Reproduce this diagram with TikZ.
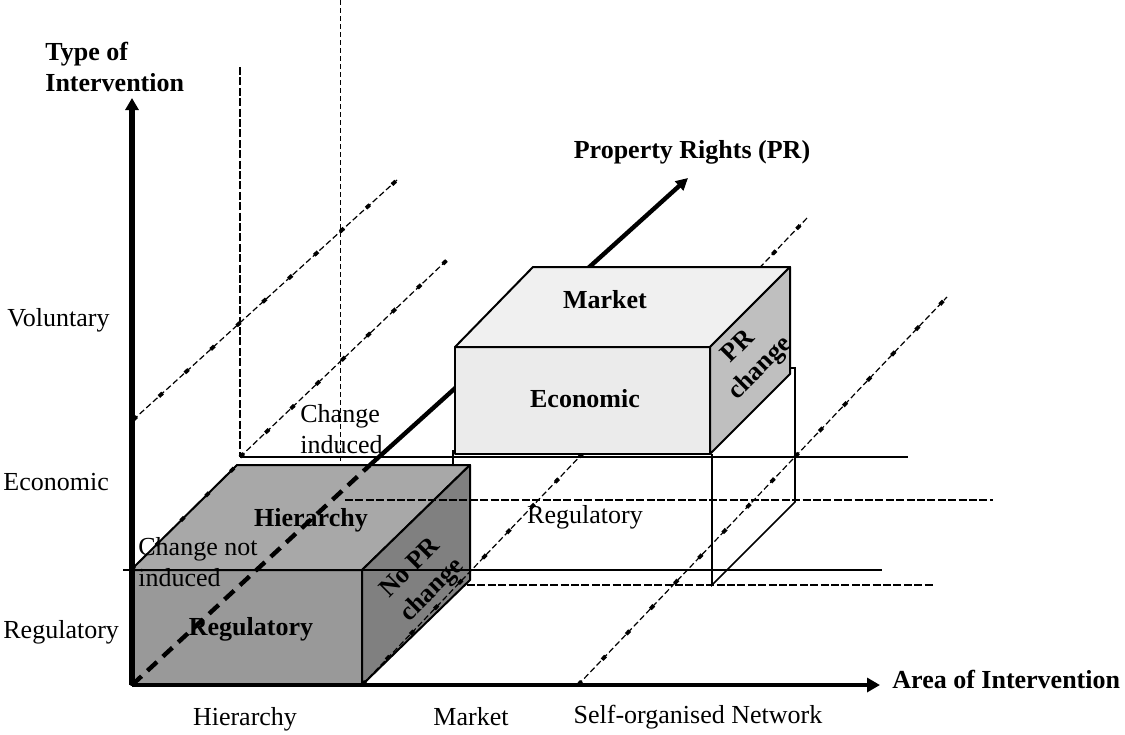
\documentclass[tikz,border=0pt]{standalone}
\usepackage{fontspec}
\setmainfont{Liberation Serif}
\usetikzlibrary{arrows.meta,positioning}
\definecolor{hiertop}{gray}{0.66}
\definecolor{hierfront}{gray}{0.6}
\definecolor{hierside}{gray}{0.5}
\definecolor{econtop}{gray}{0.94}
\definecolor{econfront}{gray}{0.92}
\definecolor{econside}{gray}{0.75}

\begin{document}
\begin{tikzpicture}[x=0.5pt,y=-0.5pt,
    lbl/.style={font=\fontsize{13}{15.5}\selectfont,inner sep=0pt},
    blbl/.style={font=\fontsize{13}{15.5}\selectfont\bfseries,inner sep=0pt},
    face/.style={draw,line width=1pt,line join=round},
    gridline/.style={line width=0.6pt,dash pattern=on 3pt off 1.5pt,
      postaction={draw,line width=1.9pt,dash pattern=on 2.5pt off 15pt}},
    thickdash/.style={line width=1.4pt,dash pattern=on 4pt off 1.2pt},
    thinline/.style={line width=0.8pt}]
  \useasboundingbox (0,0) rectangle (1125,734);
  % corners
  \coordinate (o) at (132,685);
  \coordinate (ytip) at (132,98);
  \coordinate (xtip) at (880,685);
  \coordinate (prmid) at (370,465);
  \coordinate (prtip) at (688,178);
  % PR grid lines
  \draw[gridline] (133,420) coordinate (g1a) -- (397,180) coordinate (g1b);
  \draw[gridline] (240,457) coordinate (g2a) -- (447,260) coordinate (g2b);
  \draw[gridline] (578,685) coordinate (g4a) -- (947,297) coordinate (g4b);
  \draw[line width=0.5pt,dash pattern=on 2.5pt off 1.5pt] (340,0) -- (340,465);
  \draw[thickdash] (240,67) -- (240,457);
  \draw[thinline] (240,457) -- (908,457);
  % wire box under the economic block
  \draw[thinline] (712,454) -- (712,585) -- (795,502) -- (795,368) -- (790,368);
  \draw[thinline] (453,450) -- (453,465);
  \draw[line width=2.2pt,-{Triangle[length=6pt,width=6pt]}] (prmid) -- (prtip);
  % hierarchy block
  \draw[face,fill=hierfront] (131,570) rectangle (362,685);
  \draw[face,fill=hiertop] (131,570) -- (237,465) -- (470,465) -- (362,570) -- cycle;
  \draw[face,fill=hierside] (362,570) -- (470,465) -- (470,580) -- (362,685) -- cycle;
  \draw[gridline] (131,570) -- (237,465);
  \draw[gridline] (362,685) coordinate (g3a) -- (808,217) coordinate (g3b);
  % economic block
  \draw[face,fill=econfront] (455,347) rectangle (710,454);
  \draw[face,fill=econtop] (455,347) -- (533,267) -- (790,267) -- (710,347) -- cycle;
  \draw[face,fill=econside] (710,347) -- (790,267) -- (790,374) -- (710,454) -- cycle;
  % levels
  \draw[thinline] (123,570) -- (882,570);
  \draw[thickdash] (345,500) -- (993,500);
  \draw[thickdash] (467,585) -- (933,585);
  \draw[line width=2.2pt,dash pattern=on 6.5pt off 4pt] (o) -- (prmid);
  % axes
  \draw[line width=3pt,-{Triangle[length=6pt,width=6.5pt]}] (o) -- (ytip);
  \draw[line width=1.8pt,-{Triangle[length=6.5pt,width=7pt]}] (o) -- (xtip);
  % labels
  \node[blbl,anchor=west,align=left] (t_type) at (45,67) {Type of\\Intervention};
  \node[blbl] (t_pr) at (692,152) {Property Rights (PR)};
  \node[blbl,anchor=west] (t_area) at (892,679) {Area of Intervention};
  \node[lbl,anchor=west] (y_vol) at (7,320) {Voluntary};
  \node[lbl,anchor=west] (y_eco) at (3,482) {Economic};
  \node[lbl,anchor=west] (y_reg) at (3,632) {Regulatory};
  \node[lbl] (x_hier) at (245,719) {Hierarchy};
  \node[lbl] (x_mkt) at (471,717) {Market};
  \node[lbl] (x_net) at (698,717) {Self-organised Network};
  \node[lbl,anchor=west,align=left] (c_ind) at (300,429) {Change\\induced};
  \node[lbl,anchor=west,align=left] (c_not) at (138,562) {Change not\\induced};
  \node[blbl] (h_top) at (311,520) {Hierarchy};
  \node[blbl] (h_front) at (251,629) {Regulatory};
  \node[blbl,rotate=45,align=center] (h_side) at (422,580) {No PR\\change};
  \node[blbl] (e_top) at (605,300) {Market};
  \node[blbl] (e_front) at (585,399) {Economic};
  \node[blbl,rotate=45,align=center] (e_side) at (750,358) {PR\\change};
  \node[lbl] (w_reg) at (585,517) {Regulatory};
\end{tikzpicture}
\end{document}
